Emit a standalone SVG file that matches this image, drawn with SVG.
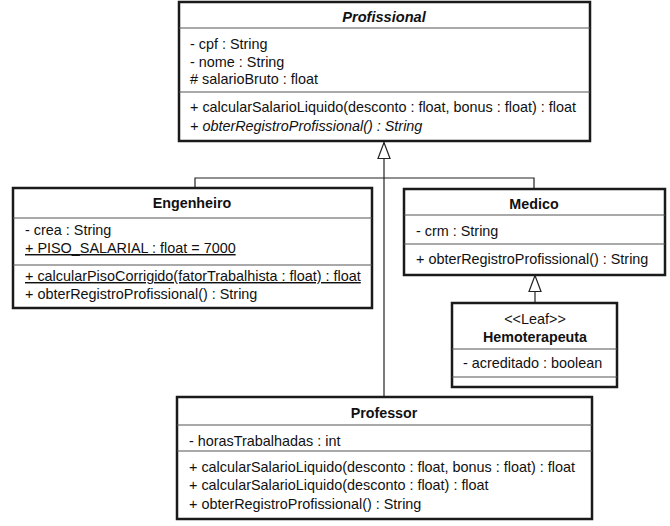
<svg xmlns="http://www.w3.org/2000/svg" width="670" height="526" viewBox="0 0 670 526">
<style>
.box{fill:#fff;stroke:#1a1a1a;stroke-width:2.5}
.sep{stroke:#555;stroke-width:1.2}
.conn{fill:none;stroke:#222;stroke-width:1.2}
text{font-family:"Liberation Sans",Arial,sans-serif;font-size:14.4px;fill:#111}
.name{font-weight:bold;text-anchor:middle;font-size:14.3px}
.mid{text-anchor:middle}
.it{font-style:italic}
.u{text-decoration:underline}
</style>
<defs>
<marker id="gen" markerWidth="18" markerHeight="14" refX="17" refY="7" orient="auto" markerUnits="userSpaceOnUse">
<path d="M1,1 L17,7 L1,13 Z" fill="#fff" stroke="#222" stroke-width="1.2"/>
</marker>
</defs>
<rect width="670" height="526" fill="#fff"/>
<g id="connectors">
<path class="conn" d="M384,397 L384,142.5" marker-end="url(#gen)"/>
<path class="conn" d="M195,188 L195,178 L534,178 L534,189"/>
<path class="conn" d="M535,303 L535,275.5" marker-end="url(#gen)"/>
</g>
<g id="Profissional">
<rect class="box" x="179" y="2" width="411" height="139"/>
<line class="sep" x1="179" y1="28" x2="590" y2="28"/>
<line class="sep" x1="179" y1="92" x2="590" y2="92"/>
<text class="name it" x="384" y="22" style="font-size:14.6px">Profissional</text>
<text x="190" y="49">- cpf : String</text>
<text x="190" y="67">- nome : String</text>
<text x="190" y="84"># salarioBruto : float</text>
<text x="190" y="112">+ calcularSalarioLiquido(desconto : float, bonus : float) : float</text>
<text x="190" y="131" class="it">+ obterRegistroProfissional() : String</text>
</g>
<g id="Engenheiro">
<rect class="box" x="13" y="188" width="359" height="120"/>
<line class="sep" x1="13" y1="218" x2="372" y2="218"/>
<line class="sep" x1="13" y1="265" x2="372" y2="265"/>
<text class="name" x="192" y="208">Engenheiro</text>
<text x="25" y="235">- crea : String</text>
<text x="25" y="253" class="u">+ PISO_SALARIAL : float = 7000</text>
<text x="25" y="281" class="u">+ calcularPisoCorrigido(fatorTrabalhista : float) : float</text>
<text x="25" y="299">+ obterRegistroProfissional() : String</text>
</g>
<g id="Medico">
<rect class="box" x="404" y="189" width="261" height="86"/>
<line class="sep" x1="404" y1="215" x2="665" y2="215"/>
<line class="sep" x1="404" y1="244" x2="665" y2="244"/>
<text class="name" x="534" y="209">Medico</text>
<text x="416" y="236">- crm : String</text>
<text x="416" y="264">+ obterRegistroProfissional() : String</text>
</g>
<g id="Hemoterapeuta">
<rect class="box" x="452" y="303" width="165" height="84"/>
<line class="sep" x1="452" y1="349" x2="617" y2="349"/>
<line class="sep" x1="452" y1="377" x2="617" y2="377"/>
<text class="mid" x="535" y="324">&lt;&lt;Leaf&gt;&gt;</text>
<text class="name" x="535" y="342">Hemoterapeuta</text>
<text x="463" y="368">- acreditado : boolean</text>
</g>
<g id="Professor">
<rect class="box" x="177" y="397" width="415" height="122"/>
<line class="sep" x1="177" y1="425" x2="592" y2="425"/>
<line class="sep" x1="177" y1="451" x2="592" y2="451"/>
<text class="name" x="384" y="418">Professor</text>
<text x="189" y="446">- horasTrabalhadas : int</text>
<text x="189" y="472">+ calcularSalarioLiquido(desconto : float, bonus : float) : float</text>
<text x="189" y="490">+ calcularSalarioLiquido(desconto : float) : float</text>
<text x="189" y="509">+ obterRegistroProfissional() : String</text>
</g>
</svg>
